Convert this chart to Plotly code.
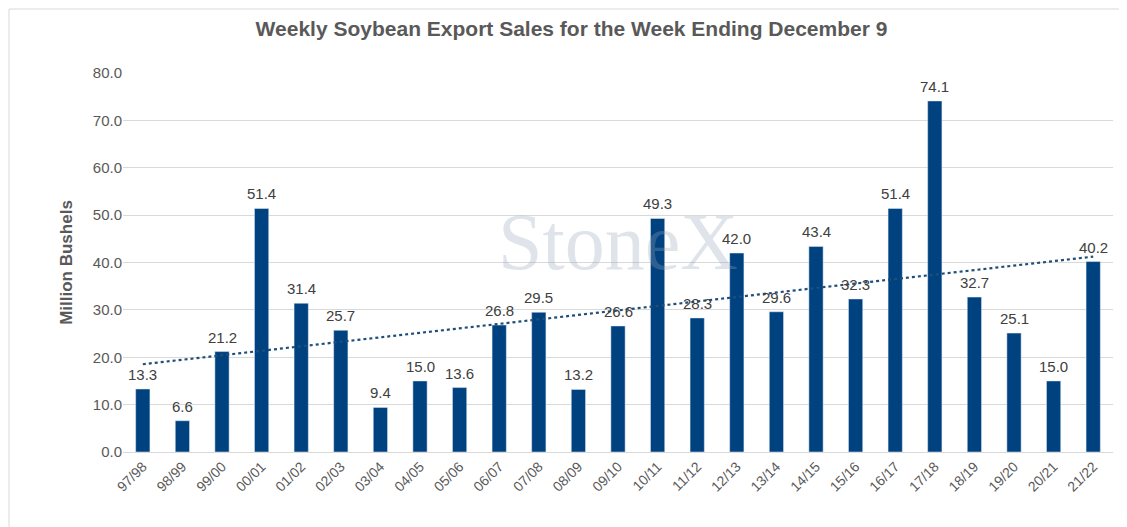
import plotly.graph_objects as go
import numpy as np

categories = ["97/98","98/99","99/00","00/01","01/02","02/03","03/04","04/05","05/06","06/07","07/08","08/09","09/10","10/11","11/12","12/13","13/14","14/15","15/16","16/17","17/18","18/19","19/20","20/21","21/22"]
values = [13.3,6.6,21.2,51.4,31.4,25.7,9.4,15.0,13.6,26.8,29.5,13.2,26.6,49.3,28.3,42.0,29.6,43.4,32.3,51.4,74.1,32.7,25.1,15.0,40.2]

x_idx = np.arange(len(values))
slope, intercept = np.polyfit(x_idx, values, 1)
trend = slope * x_idx + intercept

L, R, T, B = 115, 22, 65, 83
W, H = 1127, 527
pw, ph = W - L - R, H - T - B

fig = go.Figure()
fig.add_annotation(text="StoneX", x=0.5, y=0.555, xref="paper", yref="paper",
                   showarrow=False, font=dict(size=80, color="rgba(150,165,185,0.3)", family="Liberation Serif"))
fig.add_trace(go.Bar(x=categories, y=values, marker_color="#004280", width=0.36))
fig.add_trace(go.Scatter(x=categories, y=trend, mode="lines",
                         line=dict(color="#1F4E79", width=2.2, dash="dot")))
for c, v in zip(categories, values):
    fig.add_annotation(x=c, y=v, text=f"{v:.1f}", showarrow=False, yanchor="bottom", yshift=4,
                       font=dict(size=15, color="#404040"))
fig.add_shape(type="rect", xref="paper", yref="paper",
              x0=-(L - 1) / pw, x1=1 + (R - 2) / pw, y0=-(B - 2) / ph, y1=1 + (T - 1) / ph,
              line=dict(color="#d9d9d9", width=1), layer="below")
fig.update_layout(
    width=W, height=H, showlegend=False,
    plot_bgcolor="white", paper_bgcolor="white",
    font=dict(family="Liberation Sans, Arial", color="#595959"),
    title=dict(text="<b>Weekly Soybean Export Sales for the Week Ending December 9</b>",
               x=0.5, y=0.975, xanchor="center", yanchor="top", font=dict(size=21, color="#595959")),
    margin=dict(l=L, r=R, t=T, b=B),
    bargap=0.5,
    xaxis=dict(tickangle=-45, tickfont=dict(size=14, color="#595959"), showline=True,
               linecolor="#d9d9d9", ticks=""),
    yaxis=dict(range=[0, 80], dtick=10, tickformat=".1f", gridcolor="#d9d9d9",
               tickfont=dict(size=15, color="#595959"), zeroline=False,
               title=dict(text="<b>Million Bushels</b>", font=dict(size=17, color="#595959"))),
)
fig.write_html("out.html")
